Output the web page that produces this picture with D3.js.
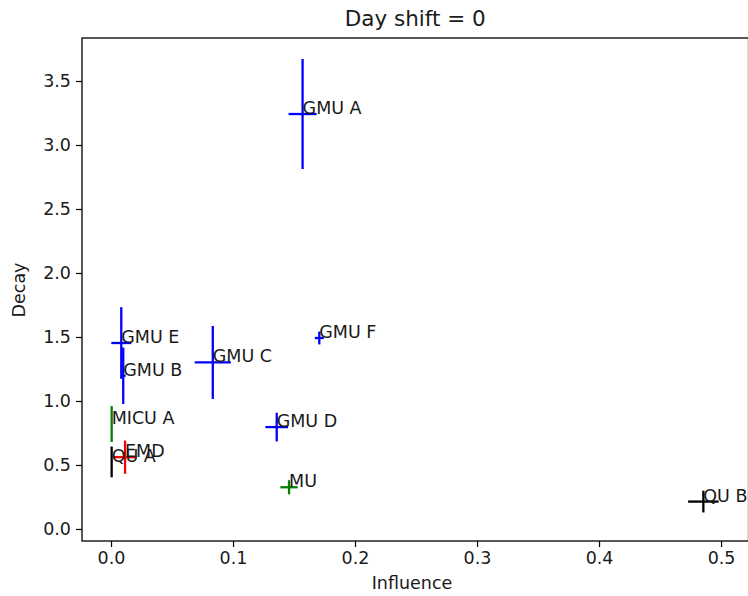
<!DOCTYPE html>
<html>
<head>
<meta charset="utf-8">
<script src="https://cdn.jsdelivr.net/npm/d3@7"></script>
<style>
  html, body { margin: 0; padding: 0; background: #fff; }
  svg { display: block; font-family: "DejaVu Sans", sans-serif; }
</style>
</head>
<body>
<svg id="chart" width="748" height="596"></svg>
<script>
// Units and their fitted parameters (influence, decay) with uncertainties
const units      = ["GMU A", "GMU B", "GMU C", "GMU D", "GMU E", "GMU F", "MICU A", "MU", "EMD", "QU A", "QU B"];
const influence  = [0.157, 0.010, 0.0834, 0.1358, 0.0084, 0.1707, 0.0005, 0.1459, 0.0115, 0.0005, 0.4855];
const influenceErr = [0.0115, 0.002, 0.0148, 0.0093, 0.0082, 0.0037, 0.0004, 0.0071, 0.0094, 0.0004, 0.0125];
const decay      = [3.242, 1.197, 1.301, 0.796, 1.453, 1.492, 0.82, 0.326, 0.561, 0.524, 0.214];
const decayErr   = [0.43, 0.22, 0.285, 0.112, 0.28, 0.05, 0.14, 0.055, 0.13, 0.12, 0.085];
const unitColors = ["#0000ff", "#0000ff", "#0000ff", "#0000ff", "#0000ff", "#0000ff", "#008000", "#008000", "#ff0000", "#000000", "#000000"];

const xTicks = [0.0, 0.1, 0.2, 0.3, 0.4, 0.5];
const yTicks = [0.0, 0.5, 1.0, 1.5, 2.0, 2.5, 3.0, 3.5];

const title = "Day shift = 0";
const xLabel = "Influence";
const yLabel = "Decay";

const svg = d3.select("#chart");
const plot = { left: 82, top: 38, right: 748.5, bottom: 541 };

const x = d3.scaleLinear().domain([-0.0238, 0.5225]).range([plot.left, plot.right]);
const y = d3.scaleLinear().domain([-0.094, 3.836]).range([plot.bottom, plot.top]);

const baseFont = 17.5;
const textColor = "#1a1a1a";

// axes
const xAxis = d3.axisBottom(x).tickValues(xTicks).tickFormat(d3.format(".1f")).tickSizeOuter(0).tickSize(6).tickPadding(5);
const yAxis = d3.axisLeft(y).tickValues(yTicks).tickFormat(d3.format(".1f")).tickSizeOuter(0).tickSize(6).tickPadding(5);

const gx = svg.append("g").attr("transform", `translate(0,${plot.bottom})`).call(xAxis);
const gy = svg.append("g").attr("transform", `translate(${plot.left},0)`).call(yAxis);
[gx, gy].forEach(g => {
  g.select(".domain").remove();
  g.selectAll(".tick line").attr("stroke", "#000").attr("stroke-width", 1.2);
  g.selectAll(".tick text").attr("fill", textColor).style("font-size", baseFont + "px").style("font-family", "DejaVu Sans");
});

// frame
svg.append("rect")
  .attr("x", plot.left).attr("y", plot.top)
  .attr("width", plot.right - plot.left).attr("height", plot.bottom - plot.top)
  .attr("fill", "none").attr("stroke", "#000").attr("stroke-width", 1.3);

// error bars
const data = units.map((u, i) => ({
  name: u, x: influence[i], xe: influenceErr[i], y: decay[i], ye: decayErr[i], c: unitColors[i]
}));

const bars = svg.append("g");
data.forEach(d => {
  bars.append("line")
    .attr("x1", x(d.x - d.xe)).attr("x2", x(d.x + d.xe))
    .attr("y1", y(d.y)).attr("y2", y(d.y))
    .attr("stroke", d.c).attr("stroke-width", 2.3);
  bars.append("line")
    .attr("x1", x(d.x)).attr("x2", x(d.x))
    .attr("y1", y(d.y - d.ye)).attr("y2", y(d.y + d.ye))
    .attr("stroke", d.c).attr("stroke-width", 2.3);
});

// unit names at each point
svg.append("g").selectAll("text").data(data).join("text")
  .attr("x", d => x(d.x))
  .attr("y", d => y(d.y))
  .attr("fill", textColor)
  .style("font-size", baseFont + "px")
  .text(d => d.name);

// title and axis labels
svg.append("text")
  .attr("x", (plot.left + plot.right) / 2).attr("y", 26)
  .attr("text-anchor", "middle").style("font-size", "21.5px").attr("fill", textColor)
  .text(title);

svg.append("text")
  .attr("x", 412).attr("y", 589)
  .attr("text-anchor", "middle").style("font-size", baseFont + "px").attr("fill", textColor)
  .text(xLabel);

svg.append("text")
  .attr("transform", `translate(25,290) rotate(-90)`)
  .attr("text-anchor", "middle").style("font-size", baseFont + "px").attr("fill", textColor)
  .text(yLabel);
</script>
</body>
</html>
